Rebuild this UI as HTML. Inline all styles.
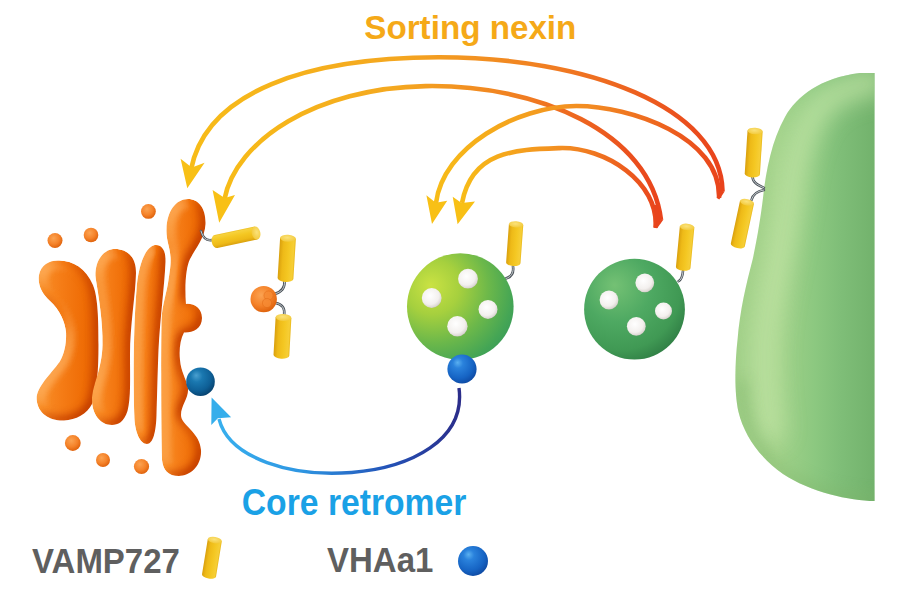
<!DOCTYPE html>
<html><head><meta charset="utf-8"><style>
html,body{margin:0;padding:0;background:#fff;}
body{width:898px;height:606px;overflow:hidden;position:relative;font-family:"Liberation Sans",sans-serif;}
svg{position:absolute;left:0;top:0;display:block;}
</style></head><body>
<svg width="898" height="606" viewBox="0 0 898 606">
<defs>
  <clipPath id="cellClip"><path d="M874.6 73 L874.6 501 C850 501 810 492 783 474 C760 458 744 435 738.5 412 C734 392 735 362 737.5 340 C740 310 746 285 752.7 259.2 C757 240 761 215 763 198 C766 170 772 140 785 117 C797 96 820 78 860 73 Z"/></clipPath>
  <filter id="blur8" x="-50%" y="-50%" width="200%" height="200%"><feGaussianBlur stdDeviation="7"/></filter>
  <filter id="blur12" x="-50%" y="-50%" width="200%" height="200%"><feGaussianBlur stdDeviation="12"/></filter>
  <filter id="bev" x="-20%" y="-20%" width="140%" height="140%" color-interpolation-filters="sRGB">
    <feGaussianBlur in="SourceAlpha" stdDeviation="5.5" result="b"/>
    <feDiffuseLighting in="b" surfaceScale="4" diffuseConstant="1" lighting-color="#ffffff" result="d">
      <feDistantLight azimuth="215" elevation="60"/>
    </feDiffuseLighting>
    <feColorMatrix in="d" type="matrix" values="0 0 0 0 0  0 0 0 0 0  0 0 0 0 0  -2.6 0 0 0 2.25" result="shA"/>
    <feFlood flood-color="#c84300"/>
    <feComposite in2="shA" operator="in" result="sh"/>
    <feColorMatrix in="d" type="matrix" values="0 0 0 0 0  0 0 0 0 0  0 0 0 0 0  5 0 0 0 -4.35" result="hiA"/>
    <feFlood flood-color="#ffb464"/>
    <feComposite in2="hiA" operator="in" result="hi"/>
    <feMerge><feMergeNode in="SourceGraphic"/><feMergeNode in="sh"/><feMergeNode in="hi"/></feMerge>
    <feComposite in2="SourceAlpha" operator="in"/>
  </filter>
  <linearGradient id="gOr" x1="0" y1="0" x2="1" y2="0">
    <stop offset="0" stop-color="#f9922c"/>
    <stop offset="0.4" stop-color="#f57c16"/>
    <stop offset="0.75" stop-color="#ef6d06"/>
    <stop offset="1" stop-color="#e55f00"/>
  </linearGradient>
  <radialGradient id="gDot" cx="0.4" cy="0.35" r="0.65">
    <stop offset="0" stop-color="#fba352"/>
    <stop offset="0.6" stop-color="#f5832a"/>
    <stop offset="1" stop-color="#e0640e"/>
  </radialGradient>
  <radialGradient id="gV1" cx="0.28" cy="0.35" r="0.85" fx="0.22" fy="0.3">
    <stop offset="0" stop-color="#cae243"/>
    <stop offset="0.3" stop-color="#a6d03e"/>
    <stop offset="0.6" stop-color="#6cb84a"/>
    <stop offset="0.85" stop-color="#44a555"/>
    <stop offset="1" stop-color="#35985a"/>
  </radialGradient>
  <radialGradient id="gV2" cx="0.36" cy="0.32" r="0.75" fx="0.3" fy="0.26">
    <stop offset="0" stop-color="#74c174"/>
    <stop offset="0.45" stop-color="#4ea962"/>
    <stop offset="0.8" stop-color="#409954"/>
    <stop offset="1" stop-color="#2f7d44"/>
  </radialGradient>
  <radialGradient id="gWh" cx="0.42" cy="0.38" r="0.68">
    <stop offset="0" stop-color="#ffffff"/>
    <stop offset="0.65" stop-color="#f3f0ee"/>
    <stop offset="0.88" stop-color="#dcd7d3"/>
    <stop offset="1" stop-color="#b3aeaa"/>
  </radialGradient>
  <radialGradient id="gBlue1" cx="0.4" cy="0.35" r="0.7" fx="0.35" fy="0.28">
    <stop offset="0" stop-color="#5ab0f0"/>
    <stop offset="0.25" stop-color="#2a82dc"/>
    <stop offset="0.7" stop-color="#1664c4"/>
    <stop offset="1" stop-color="#0d47a0"/>
  </radialGradient>
  <radialGradient id="gBlue2" cx="0.4" cy="0.35" r="0.7" fx="0.35" fy="0.28">
    <stop offset="0" stop-color="#4aa0d0"/>
    <stop offset="0.3" stop-color="#1a78b0"/>
    <stop offset="0.7" stop-color="#0e5f96"/>
    <stop offset="1" stop-color="#073f6a"/>
  </radialGradient>
  <linearGradient id="gCell" x1="735" y1="0" x2="875" y2="0" gradientUnits="userSpaceOnUse">
    <stop offset="0" stop-color="#a0cf87"/>
    <stop offset="0.3" stop-color="#a2d28a"/>
    <stop offset="0.57" stop-color="#8cc880"/>
    <stop offset="0.75" stop-color="#7fbe78"/>
    <stop offset="1" stop-color="#72b26c"/>
  </linearGradient>
  <linearGradient id="gCyl" x1="0" y1="0" x2="1" y2="0">
    <stop offset="0" stop-color="#d9a00e"/>
    <stop offset="0.25" stop-color="#eeba18"/>
    <stop offset="0.6" stop-color="#f4c722"/>
    <stop offset="0.9" stop-color="#f6ce36"/>
    <stop offset="1" stop-color="#e9b81a"/>
  </linearGradient>
  <linearGradient id="gCylR" x1="1" y1="0" x2="0" y2="0">
    <stop offset="0" stop-color="#d9a00e"/>
    <stop offset="0.25" stop-color="#eeba18"/>
    <stop offset="0.6" stop-color="#f4c722"/>
    <stop offset="0.9" stop-color="#f7d23c"/>
    <stop offset="1" stop-color="#ecbd20"/>
  </linearGradient>
  <radialGradient id="gCap" cx="0.45" cy="0.4" r="0.7">
    <stop offset="0" stop-color="#fbe27a"/>
    <stop offset="1" stop-color="#f1c632"/>
  </radialGradient>
  <linearGradient id="gArrA" x1="721" y1="0" x2="190" y2="0" gradientUnits="userSpaceOnUse">
    <stop offset="0" stop-color="#e9431c"/>
    <stop offset="0.3" stop-color="#f07a22"/>
    <stop offset="0.6" stop-color="#f4a620"/>
    <stop offset="1" stop-color="#f7bc18"/>
  </linearGradient>
  <linearGradient id="gArrB" x1="658" y1="0" x2="220" y2="0" gradientUnits="userSpaceOnUse">
    <stop offset="0" stop-color="#e9441c"/>
    <stop offset="0.3" stop-color="#f07c22"/>
    <stop offset="0.6" stop-color="#f4a820"/>
    <stop offset="1" stop-color="#f7bc18"/>
  </linearGradient>
  <linearGradient id="gArrC" x1="721" y1="0" x2="435" y2="0" gradientUnits="userSpaceOnUse">
    <stop offset="0" stop-color="#e9441c"/>
    <stop offset="0.45" stop-color="#f28a22"/>
    <stop offset="1" stop-color="#f7bc18"/>
  </linearGradient>
  <linearGradient id="gArrD" x1="658" y1="0" x2="460" y2="0" gradientUnits="userSpaceOnUse">
    <stop offset="0" stop-color="#e9441c"/>
    <stop offset="0.45" stop-color="#f28a22"/>
    <stop offset="1" stop-color="#f7bc18"/>
  </linearGradient>
  <linearGradient id="gArrBlue" x1="460" y1="0" x2="215" y2="0" gradientUnits="userSpaceOnUse">
    <stop offset="0" stop-color="#2b2d8a"/>
    <stop offset="0.3" stop-color="#2353b8"/>
    <stop offset="0.65" stop-color="#2e96e2"/>
    <stop offset="1" stop-color="#38b0ee"/>
  </linearGradient>
</defs>

<!-- ===== Arrows ===== -->
<g fill="none" stroke-linecap="butt">
  <path d="M722.5 191.0 C720.7 106.7 585.8 57.0 438.3 57.3 C308.3 57.6 206.3 91.0 191.0 169.5" stroke="url(#gArrA)" stroke-width="4.6"/>
  <path d="M661.0 220.0 C650.3 131.5 536.8 84.2 425.5 86.1 C316.4 88.0 235.7 140.2 224.4 199.5" stroke="url(#gArrB)" stroke-width="4.6"/>
  <path d="M719.0 198.0 C721.2 136.8 630.3 105.9 576.3 106.0 C516.0 106.2 442.9 147.5 436.0 203.0" stroke="url(#gArrC)" stroke-width="4.6"/>
  <path d="M655.5 227.5 C659.1 182.4 605.5 146.6 559.5 148.1 C515.0 149.6 471.8 150.8 462.0 203.0" stroke="url(#gArrD)" stroke-width="4.6"/>
  <path d="M459 388 C472.5 491.8 239.4 499.1 219 419" stroke="url(#gArrBlue)" stroke-width="3.4"/>
</g>
<g fill="#f8c016">
  <path d="M187.3 188.3 L180.6 158.8 L191.8 167.6 L204.6 162.8 Z"/>
  <path d="M219.2 222.8 L212.6 190 L224.6 198 L235 195 Z"/>
  <path d="M432 224 L426.4 195.2 L435.8 202.7 L447.2 200.7 Z"/>
  <path d="M457.6 224.3 L452.7 196.7 L461.6 203 L475 201.5 Z"/>
</g>
<path d="M211.6 397.4 L231.1 417.2 L217.8 418.2 L211.3 425.1 Z" fill="#36aeeb"/>

<path d="M720.3 190.8 L724.8 191.2 L719.3 199.5 L716.8 198 Z" fill="#e8441c"/>
<path d="M655 205 C656.5 210 657.6 216 658.3 224" stroke="#e8441c" stroke-width="4" fill="none"/>
<path d="M658.7 220.3 L663.3 219.7 L657.2 228.3 L653.3 227.8 Z" fill="#e8441c"/>

<!-- ===== Cell ===== -->
<path d="M874.6 73 L874.6 501 C850 501 810 492 783 474 C760 458 744 435 738.5 412 C734 392 735 362 737.5 340 C740 310 746 285 752.7 259.2 C757 240 761 215 763 198 C766 170 772 140 785 117 C797 96 820 78 860 73 Z" fill="url(#gCell)"/>
<g clip-path="url(#cellClip)">
  <path d="M772 440 C768 420 766 400 765 380 C764 360 764 345 766 330 C768 310 773 285 779 259 C783 240 787 215 790 198 C793 170 799 140 812 117 C824 96 847 85 885 80" fill="none" stroke="#c2e5a6" stroke-width="24" filter="url(#blur12)" opacity="0.85"/>
  <path d="M742 380 C742 420 755 450 780 470 C805 488 840 498 880 500" fill="none" stroke="#7fb56a" stroke-width="10" filter="url(#blur8)" opacity="0.5"/>
</g>
<!-- ===== Golgi ===== -->
<path d="M58 260.5 C72 260 86 268 93 285 C98 297 98.5 320 98.5 345 C98.5 370 97 392 92 404 C87 414 76 420 64 420.5 C50 421 38 414 36.7 400 C35.5 388 50 375 59.5 362 C65 353 66.5 342 66 332 C65 322 60 310 50 301 C42 294 37.5 285 39 275 C41 265 49 260.5 58 260.5 Z" fill="url(#gOr)" filter="url(#bev)"/>
<path d="M115 249 C128 249 136.5 258 136 273 C135.5 295 130 325 130 355 C130 378 131 398 127.5 411 C124 422 118 425 112 425 C100 425 92 414 92 400 C92 385 102 370 102.5 345 C103 322 98.5 296 95.8 279 C93.8 262 103 249 115 249 Z" fill="url(#gOr)" filter="url(#bev)"/>
<path d="M156 245 C163 245 166 252 165.5 262 C164.5 285 160 320 158.5 350 C157.5 375 157 400 156.5 415 C156 432 153 444 147 444 C140 444 134.5 432 134.3 415 C133.5 380 133.2 330 136.5 290 C138.5 262 147 245 156 245 Z" fill="url(#gOr)" filter="url(#bev)"/>
<path d="M188 199 C199 199 206 209 205.5 224 C205 238 195 249 190 259 C186 267 184.5 285 186 304 C192 303 202 307 202 318 C202 329 192 333 184 332.5 C180 340 179 350 180 360 C181 372 186 378 188 388 C189 398 181 405 181 415 C181 425 200 432 201 450 C202 466 190 476 179 476 C168 476 163 470 162 460 C161 420 161 350 161.5 320 C162 305 167 292 168.5 280 C170 270 171 264 170.5 257 C170 247 166 240 166.5 229 C167 211 176 199 188 199 Z" fill="url(#gOr)" filter="url(#bev)"/>
<circle cx="55" cy="240.5" r="7.5" fill="url(#gDot)"/>
<circle cx="91" cy="235" r="7.3" fill="url(#gDot)"/>
<circle cx="148.4" cy="211.4" r="7.4" fill="url(#gDot)"/>
<circle cx="72.8" cy="443" r="7.9" fill="url(#gDot)"/>
<circle cx="103" cy="460" r="7" fill="url(#gDot)"/>
<circle cx="141.5" cy="466.5" r="7.6" fill="url(#gDot)"/>
<circle cx="200.5" cy="381.7" r="14.3" fill="url(#gBlue2)"/>

<!-- ===== hooks ===== -->
<g fill="none" stroke-linecap="round">
  <g stroke="#4b5259" stroke-width="2.6">
  <path id="h1" d="M201 231 C203 238 206 241 212 240"/>
  <path d="M284.5 281 C285 288 282 292 274.5 294"/>
  <path d="M275.5 303 C282 304 285 308 284.2 315"/>
  <path d="M513 266.5 C514 273 511 277 505.8 278.6"/>
  <path d="M683 271 C682.5 277 681 280 678.6 281.2"/>
  <path d="M752.5 177 C753 183 758 185 763.9 187.8"/>
  <path d="M763.9 190 C758 191 753 194 751.5 200"/>
  </g>
  <g stroke="#d5dade" stroke-width="0.9">
  <path d="M201 231 C203 238 206 241 212 240"/>
  <path d="M284.5 281 C285 288 282 292 274.5 294"/>
  <path d="M275.5 303 C282 304 285 308 284.2 315"/>
  <path d="M513 266.5 C514 273 511 277 505.8 278.6"/>
  <path d="M683 271 C682.5 277 681 280 678.6 281.2"/>
  <path d="M752.5 177 C753 183 758 185 763.9 187.8"/>
  <path d="M763.9 190 C758 191 753 194 751.5 200"/>
  </g>
</g>
<g transform="translate(256.00 233.00) rotate(78.00)"><path d="M-6.70 0 L-6.70 40.89 A6.70 4.29 0 0 0 6.70 40.89 L6.70 0 Z" fill="url(#gCylR)"/><ellipse cx="0" cy="0" rx="6.70" ry="4.29" fill="url(#gCap)"/></g>
<g transform="translate(288.00 238.30) rotate(3.57)"><path d="M-7.90 0 L-7.90 40.18 A7.90 3.48 0 0 0 7.90 40.18 L7.90 0 Z" fill="url(#gCyl)"/><ellipse cx="0" cy="0" rx="7.90" ry="3.48" fill="url(#gCap)"/></g>
<g transform="translate(283.50 317.50) rotate(3.19)"><path d="M-7.90 0 L-7.90 37.76 A7.90 3.48 0 0 0 7.90 37.76 L7.90 0 Z" fill="url(#gCyl)"/><ellipse cx="0" cy="0" rx="7.90" ry="3.48" fill="url(#gCap)"/></g>
<g transform="translate(516.10 224.40) rotate(4.17)"><path d="M-7.20 0 L-7.20 38.50 A7.20 3.17 0 0 0 7.20 38.50 L7.20 0 Z" fill="url(#gCyl)"/><ellipse cx="0" cy="0" rx="7.20" ry="3.17" fill="url(#gCap)"/></g>
<g transform="translate(687.10 226.90) rotate(5.49)"><path d="M-7.30 0 L-7.30 40.79 A7.30 3.21 0 0 0 7.30 40.79 L7.30 0 Z" fill="url(#gCyl)"/><ellipse cx="0" cy="0" rx="7.30" ry="3.21" fill="url(#gCap)"/></g>
<g transform="translate(755.10 131.00) rotate(3.72)"><path d="M-7.60 0 L-7.60 43.19 A7.60 3.34 0 0 0 7.60 43.19 L7.60 0 Z" fill="url(#gCyl)"/><ellipse cx="0" cy="0" rx="7.60" ry="3.34" fill="url(#gCap)"/></g>
<g transform="translate(747.00 202.30) rotate(12.16)"><path d="M-7.15 0 L-7.15 43.68 A7.15 3.15 0 0 0 7.15 43.68 L7.15 0 Z" fill="url(#gCyl)"/><ellipse cx="0" cy="0" rx="7.15" ry="3.15" fill="url(#gCap)"/></g>
<g transform="translate(214.80 540.10) rotate(9.30)"><path d="M-7.10 0 L-7.10 35.87 A7.10 3.12 0 0 0 7.10 35.87 L7.10 0 Z" fill="url(#gCyl)"/><ellipse cx="0" cy="0" rx="7.10" ry="3.12" fill="url(#gCap)"/></g>
<!-- small orange ball -->
<circle cx="263.7" cy="299.1" r="13.2" fill="url(#gDot)"/>
<circle cx="268.5" cy="295.5" r="4.6" fill="#f68a33" stroke="#e06a15" stroke-width="0.6" opacity="0.8"/>
<circle cx="267" cy="303" r="4.6" fill="#f68a33" stroke="#e06a15" stroke-width="0.6" opacity="0.8"/>

<!-- ===== Vesicles ===== -->
<circle cx="460.3" cy="306.6" r="53.3" fill="url(#gV1)"/>
<g fill="url(#gWh)">
  <circle cx="468" cy="278.7" r="9.9"/>
  <circle cx="431.7" cy="298" r="9.9"/>
  <circle cx="488" cy="309.4" r="9.5"/>
  <circle cx="457.4" cy="326.2" r="10.2"/>
</g>
<circle cx="462" cy="369" r="14.6" fill="url(#gBlue1)"/>

<circle cx="634.5" cy="309.2" r="50.4" fill="url(#gV2)"/>
<g fill="url(#gWh)">
  <circle cx="644.8" cy="282.8" r="9.4"/>
  <circle cx="609" cy="300" r="9.4"/>
  <circle cx="663.5" cy="311" r="8.5"/>
  <circle cx="636.3" cy="326.3" r="9.4"/>
</g>

<!-- legend ball -->
<circle cx="473" cy="561" r="15" fill="url(#gBlue1)"/>

<!-- ===== Text ===== -->
<g font-family="Liberation Sans, sans-serif" font-weight="bold">
  <text x="364.3" y="39.2" font-size="33.2" fill="#f5a918">Sorting nexin</text>
  <text transform="translate(241.8 515.2) scale(1 1.07)" font-size="33.7" fill="#1aa1e6">Core retromer</text>
  <text transform="translate(32 572.6) scale(1 1.065)" font-size="33" fill="#5f5f5f">VAMP727</text>
  <text transform="translate(327 572.2) scale(1 1.065)" font-size="33" fill="#5f5f5f">VHAa1</text>
</g>
</svg>
</body></html>
